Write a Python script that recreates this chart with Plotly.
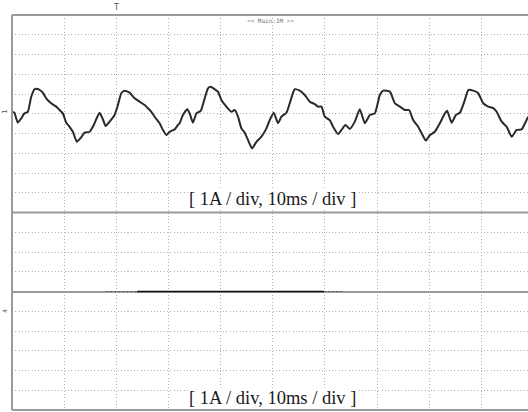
import plotly.graph_objects as go
from plotly.subplots import make_subplots

# Channel 1 current waveform (time in ms, current in A)
t_ms = [0.15, 0.48, 1.11, 1.77, 2.40, 3.03, 3.69, 4.32, 4.95, 5.91, 6.56, 7.52, 8.48, 9.12, 9.75,
        10.40, 11.04, 11.67, 12.44, 13.28, 13.92, 14.88, 15.51, 16.16, 16.79, 17.43, 17.95, 18.71,
        19.67, 20.31, 20.96, 21.59, 22.55, 23.51, 24.47, 25.43, 26.07, 26.72, 27.35, 28.31, 28.94,
        29.60, 30.23, 31.19, 31.82, 32.15, 32.78, 33.63, 34.07, 34.70, 35.36, 36.18, 36.95, 37.58,
        38.10, 38.87, 39.50, 40.15, 41.11, 42.07, 42.71, 43.34, 43.99, 44.63, 45.26, 46.03, 46.87,
        47.83, 48.79, 49.42, 50.19, 51.02, 51.67, 52.63, 53.26, 54.22, 55.18, 56.14, 57.10, 58.06,
        58.69, 59.35, 59.98, 60.94, 61.57, 62.53, 63.19, 63.95, 64.78, 65.74, 66.70, 67.66, 68.62,
        69.58, 70.54, 71.17, 72.46, 73.42, 74.38, 75.34, 76.16, 76.93, 77.89, 78.73, 79.37, 80.13,
        81.09, 82.05, 83.01, 83.45, 84.30, 85.12, 85.89, 86.85, 87.49, 88.45, 89.40, 90.36, 91.32,
        92.28, 92.94, 93.90, 94.86, 95.82, 96.78, 97.74, 98.37, 99.00]
i_ch1 = [0.10, 0.04, -0.45, -0.23, 0.02, 0.10, 0.86, 1.24, 1.25, 1.07, 0.78, 0.53, 0.36, 0.19, 0.02,
         -0.45, -0.66, -0.91, -1.42, -1.19, -0.96, -0.91, -0.66, -0.28, 0.05, -0.28, -0.62, -0.40,
         -0.06, 0.44, 1.04, 1.17, 1.07, 0.78, 0.61, 0.44, 0.28, 0.10, -0.15, -0.48, -0.82,
         -1.08, -0.91, -0.79, -0.57, -0.48, -0.06, 0.23, 0.02, -0.45, 0.02, 0.14, 0.78, 1.29,
         1.37, 1.24, 1.12, 0.70, 0.36, 0.10, 0.19, -0.15, -0.74, -0.96, -1.33, -1.75, -1.42,
         -1.16, -0.74, -0.32, 0.05, -0.48, -0.15, 0.05, 0.53, 1.24, 1.17, 0.95, 0.61, 0.49,
         0.36, 0.36, -0.15, -0.32, -0.66, -1.03, -0.82, -0.57, -0.77, -0.40, 0.23, -0.48, -0.06,
         0.02, 0.95, 1.17, 1.12, 0.53, 0.36, 0.19, 0.19, -0.32, -0.66, -1.08, -1.36, -1.08,
         -0.91, -0.48, 0.02, 0.15, -0.45, -0.06, 0.05, 0.70, 1.20, 1.17, 1.04, 0.53, 0.36,
         0.28, 0.10, -0.40, -0.66, -1.16, -0.82, -0.79, -0.48, -0.15]

# Channel 4 current (flat at zero)
t_ch4 = [24.0, 59.8]
i_ch4 = [0.0, 0.0]
t_ch4_faint = [18.1, 24.0, None, 59.8, 63.6]
i_ch4_faint = [0.0, 0.0, None, 0.0, 0.0]

scale_label = "[ 1A / div, 10ms / div ]"
menu_label = "<< Main:1M >>"

GRID = "#b0b0b0"
FRAME = "#9a9a9a"

fig = make_subplots(rows=2, cols=1, shared_xaxes=True, vertical_spacing=0)

fig.add_trace(go.Scatter(x=t_ms, y=i_ch1, mode="lines",
                         line=dict(color="#2a2a2a", width=2, shape="spline", smoothing=0.5),
                         showlegend=False, hoverinfo="skip"), row=1, col=1)
fig.add_trace(go.Scatter(x=t_ch4_faint, y=i_ch4_faint, mode="lines",
                         line=dict(color="#555555", width=1, dash="2px,2px"),
                         showlegend=False, hoverinfo="skip"), row=2, col=1)
fig.add_trace(go.Scatter(x=t_ch4, y=i_ch4, mode="lines",
                         line=dict(color="#111111", width=1.6),
                         showlegend=False, hoverinfo="skip"), row=2, col=1)

axis_common = dict(showticklabels=False, ticks="", showgrid=True, gridcolor=GRID,
                   gridwidth=1, griddash="1px,2.3px", showline=False)

fig.update_xaxes(range=[0, 98.95], dtick=10, tick0=0, zeroline=False, **axis_common)
fig.update_yaxes(range=[-5, 5], dtick=1, tick0=0, zeroline=False, row=1, col=1, **axis_common)
fig.update_yaxes(range=[-6, 4], dtick=1, tick0=0, zeroline=True, zerolinecolor=FRAME,
                 zerolinewidth=2, row=2, col=1, **axis_common)

# Frame lines
frame = dict(type="line", line=dict(color=FRAME, width=2), layer="above")
fig.add_shape(xref="paper", yref="paper", x0=0, x1=1, y0=1, y1=1, **frame)
fig.add_shape(xref="paper", yref="paper", x0=0, x1=1, y0=0, y1=0, **frame)
fig.add_shape(xref="paper", yref="paper", x0=0, x1=0, y0=0, y1=1, **frame)
fig.add_shape(xref="paper", yref="paper", x0=0, x1=1, y0=0.5, y1=0.5, **frame)

label_font = dict(family="Liberation Serif", size=18.5, color="#1a1a1a")
anns = [
    dict(x=50, y=-4.3, xref="x", yref="y", text=scale_label, showarrow=False,
         font=label_font, bgcolor="white", borderpad=0, yanchor="middle"),
    dict(x=50, y=-5.4, xref="x2", yref="y2", text=scale_label, showarrow=False,
         font=label_font, bgcolor="white", borderpad=0, yanchor="middle"),
    dict(x=49.5, y=4.7, xref="x", yref="y", text=menu_label, showarrow=False,
         font=dict(family="DejaVu Sans Mono", size=6, color="#777777")),
    dict(x=20, y=1, xref="x", yref="paper", text="T", showarrow=False, yanchor="bottom",
         font=dict(family="DejaVu Sans", size=8, color="#555555"), yshift=1),
    dict(x=0, y=0.1, xref="paper", yref="y", text="1", showarrow=False, xanchor="right",
         textangle=-90, font=dict(family="DejaVu Sans", size=7, color="#555555"), xshift=-1),
    dict(x=0, y=-1, xref="paper", yref="y2", text="4", showarrow=False, xanchor="right",
         textangle=-90, font=dict(family="DejaVu Sans", size=6, color="#555555"), xshift=-2),
]
fig.update_layout(annotations=anns)

fig.update_layout(width=528, height=412, margin=dict(l=12, r=0, t=15, b=2),
                  paper_bgcolor="white", plot_bgcolor="white", showlegend=False)

fig.write_html("out.html")
